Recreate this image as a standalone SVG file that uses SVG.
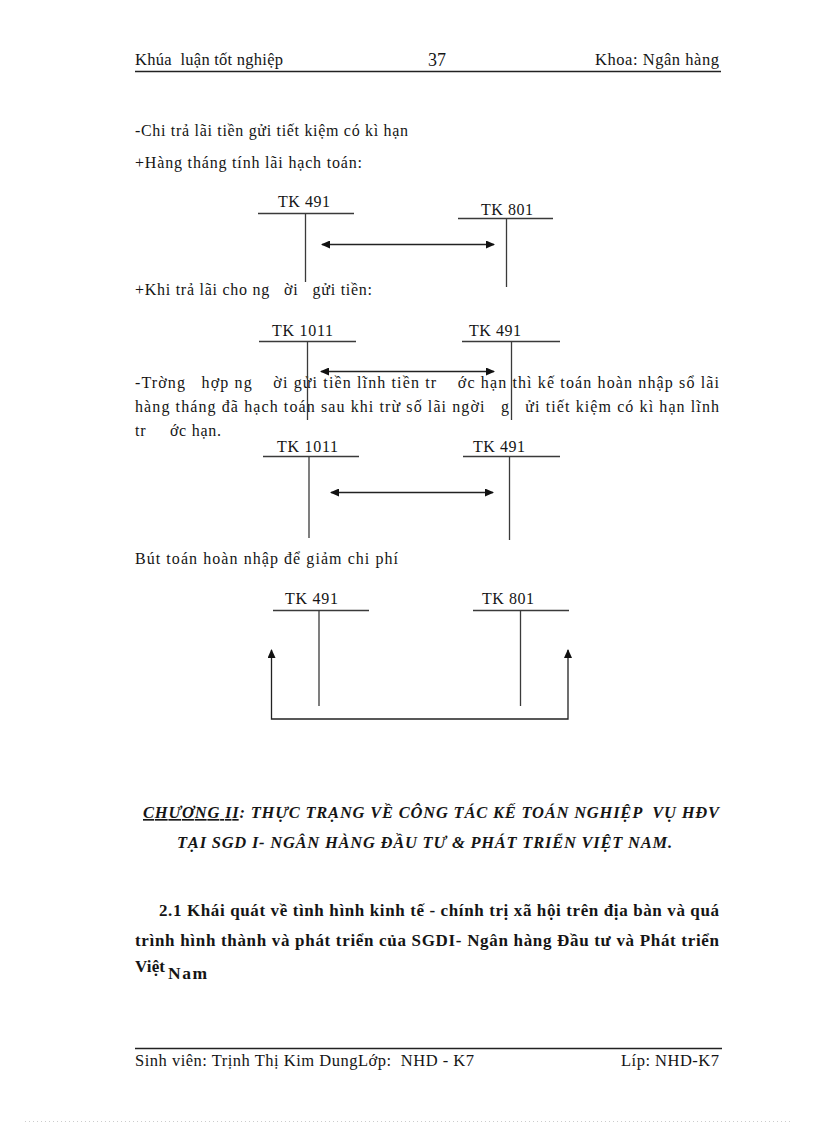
<svg xmlns="http://www.w3.org/2000/svg" width="816" height="1123" viewBox="0 0 816 1123">
<style>
text{font-family:"Liberation Serif","Times New Roman",serif;fill:#151515;}
.hd{font-size:16.5px;}
.bd{font-size:16px;}
.lb{font-size:16px;}
.h2{font-size:16.5px;font-weight:bold;font-style:italic;}
.sec{font-size:17px;font-weight:bold;}
.rule{stroke:#222;stroke-width:1.4;}
.t{stroke:#3a3a3a;stroke-width:1.3;fill:none;}
.c{stroke:#222;stroke-width:1.3;fill:none;}
</style>
<defs>
<marker id="ah" markerWidth="9" markerHeight="8" refX="8" refY="4" orient="auto-start-reverse" markerUnits="userSpaceOnUse">
<path d="M0,0 L9,4 L0,8 Z" fill="#111"/>
</marker>
</defs>
<rect width="816" height="1123" fill="#fff"/>

<g id="header">
<text class="hd" x="135" y="65" textLength="148" xml:space="preserve">Khúa  luận tốt nghiệp</text>
<text class="hd" x="428" y="66" style="font-size:18px">37</text>
<text class="hd" x="595" y="65" textLength="124">Khoa: Ngân hàng</text>
<line class="rule" x1="135" y1="71.5" x2="721" y2="71.5"/>
</g>

<g id="body-text">
<text class="bd" x="135" y="136" textLength="273">-Chi trả lãi tiền gửi tiết kiệm có kì hạn</text>
<text class="bd" x="135" y="168" textLength="227">+Hàng tháng tính lãi hạch toán:</text>
<text class="bd" x="135" y="295" textLength="237" xml:space="preserve">+Khi trả lãi cho ng   ời   gửi tiền:</text>
<text class="bd" x="135" y="388" textLength="584" xml:space="preserve">-Trờng   hợp ng    ời gửi tiền lĩnh tiền tr    ớc hạn thì kế toán hoàn nhập sổ lãi</text>
<text class="bd" x="135" y="412" textLength="584" xml:space="preserve">hàng tháng đã hạch toán sau khi trừ số lãi ngời   g   ửi tiết kiệm có kì hạn lĩnh</text>
<text class="bd" x="135" y="436" textLength="86" xml:space="preserve">tr     ớc hạn.</text>
<text class="bd" x="135" y="564" textLength="263">Bút toán hoàn nhập để giảm chi phí</text>
</g>

<!-- Diagram 1 -->
<g id="d1-tk491">
<text class="lb" x="278" y="207" textLength="52">TK 491</text>
<line class="t" x1="258" y1="213.5" x2="354" y2="213.5"/>
<line class="t" x1="305.5" y1="213.5" x2="305.5" y2="282"/>
</g>
<g id="d1-tk801">
<text class="lb" x="481" y="215" textLength="52">TK 801</text>
<line class="t" x1="458" y1="218.5" x2="553" y2="218.5"/>
<line class="t" x1="506.5" y1="218.5" x2="506.5" y2="287"/>
</g>

<!-- Diagram 2 -->
<g id="d2-tk1011">
<text class="lb" x="272" y="336" textLength="61">TK 1011</text>
<line class="t" x1="259" y1="341.5" x2="356" y2="341.5"/>
<line class="t" x1="307.5" y1="341.5" x2="307.5" y2="420"/>
</g>
<g id="d2-tk491">
<text class="lb" x="469" y="336" textLength="52">TK 491</text>
<line class="t" x1="462" y1="341.5" x2="560" y2="341.5"/>
<line class="t" x1="511.5" y1="341.5" x2="511.5" y2="420"/>
</g>

<!-- Diagram 3 -->
<g id="d3-tk1011">
<text class="lb" x="277" y="452" textLength="61">TK 1011</text>
<line class="t" x1="263" y1="456.5" x2="359" y2="456.5"/>
<line class="t" x1="309" y1="456.5" x2="309" y2="538"/>
</g>
<g id="d3-tk491">
<text class="lb" x="473" y="452" textLength="52">TK 491</text>
<line class="t" x1="463" y1="456.5" x2="560" y2="456.5"/>
<line class="t" x1="509.5" y1="456.5" x2="509.5" y2="540"/>
</g>

<!-- Diagram 4 -->
<g id="d4-tk491">
<text class="lb" x="285" y="604" textLength="53">TK 491</text>
<line class="t" x1="273" y1="610.5" x2="369" y2="610.5"/>
<line class="t" x1="319" y1="610.5" x2="319" y2="706"/>
</g>
<g id="d4-tk801">
<text class="lb" x="482" y="604" textLength="52">TK 801</text>
<line class="t" x1="473" y1="610.5" x2="569" y2="610.5"/>
<line class="t" x1="520.5" y1="610.5" x2="520.5" y2="706"/>
</g>

<g id="connectors">
<line class="c" x1="322" y1="244.5" x2="494" y2="244.5" marker-start="url(#ah)" marker-end="url(#ah)"/>
<line class="c" x1="321" y1="371.5" x2="494" y2="371.5" marker-start="url(#ah)" marker-end="url(#ah)"/>
<line class="c" x1="331" y1="492.5" x2="493" y2="492.5" marker-start="url(#ah)" marker-end="url(#ah)"/>
<path class="c" d="M271.5,650 V719 H568 V650" marker-start="url(#ah)" marker-end="url(#ah)"/>
</g>

<g id="chapter-heading">
<text class="h2" x="143" y="818" textLength="576" xml:space="preserve"><tspan text-decoration="underline">CHƯƠNG II</tspan>: THỰC TRẠNG VỀ CÔNG TÁC KẾ TOÁN NGHIỆP  VỤ HĐV</text>
<text class="h2" x="177" y="848" textLength="495">TẠI SGD I- NGÂN HÀNG ĐẦU TƯ &amp; PHÁT TRIỂN VIỆT NAM.</text>
</g>

<g id="section-heading">
<text class="sec" x="159" y="916" textLength="560">2.1 Khái quát về tình hình kinh tế - chính trị xã hội trên địa bàn và quá</text>
<text class="sec" x="135" y="946" textLength="584">trình hình thành và phát triển của SGDI- Ngân hàng Đầu tư và Phát triển</text>
<text class="sec" x="135" y="972" textLength="30">Việt</text>
<text class="sec" x="168" y="979" style="font-size:17.5px" textLength="39">Nam</text>
</g>

<g id="footer">
<line class="rule" x1="135" y1="1048.5" x2="722" y2="1048.5"/>
<text class="hd" x="135" y="1066" textLength="339" xml:space="preserve">Sinh viên: Trịnh Thị Kim DungLớp:  NHD - K7</text>
<text class="hd" x="621" y="1066" textLength="98">Líp: NHD-K7</text>
<line x1="25" y1="1121.5" x2="793" y2="1121.5" stroke="#ccc" stroke-width="1" stroke-dasharray="1,3"/>
</g>
</svg>
